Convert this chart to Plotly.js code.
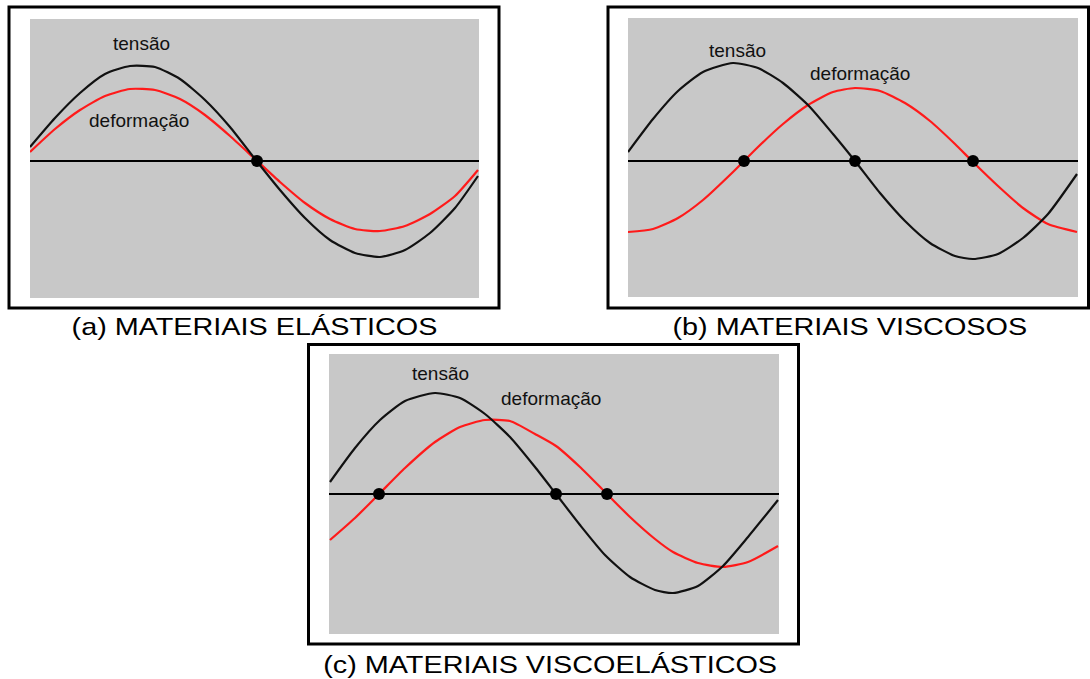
<!DOCTYPE html>
<html>
<head>
<meta charset="utf-8">
<script src="https://cdn.plot.ly/plotly-3.0.1.min.js"></script>
<style>html,body{margin:0;padding:0;background:#fff;}#chart{width:1090px;height:679px;}</style>
</head>
<body>
<div id="chart"></div>
<script>
// Panel (a) – elastic
const xA = [30, 55, 80, 105, 130, 155, 180, 205, 230, 255, 280, 305, 330, 355, 380, 405, 430, 455, 478];
const tensaoA = [14, 43, 68, 87, 95, 94, 82, 61, 34, 2, -29, -57, -79, -92, -96, -89, -72, -47, -15];
const deformA = [9, 32, 51, 65, 72, 71, 62, 46, 25, 2, -21, -42, -58, -68, -70, -65, -53, -35, -9];
const dotsAx = [257];
const dotsAy = [0];

// Panel (b) – viscous
const xB = [628, 653, 678, 703, 733, 758, 783, 808, 833, 855, 880, 905, 930, 955, 973, 998, 1023, 1048, 1077];
const tensaoB = [9, 42, 70, 89, 98, 93, 78, 56, 27, 0, -32, -60, -82, -95, -98, -93, -77, -53, -13];
const deformB = [-71, -68, -57, -39, -11, 14, 37, 56, 69, 73, 70, 58, 40, 17, -1, -25, -47, -63, -71];
const dotsBx = [744, 855, 973];
const dotsBy = [0, 0, 0];

// Panel (c) – viscoelastic
const xC = [330, 355, 380, 405, 435, 460, 485, 510, 535, 556, 580, 605, 630, 655, 673, 698, 723, 748, 778];
const tensaoC = [12, 46, 74, 93, 101, 96, 80, 57, 27, 0, -31, -61, -83, -96, -99, -92, -72, -43, -6];
const deformC = [-46, -24, 1, 26, 52, 67, 74, 73, 60, 48, 27, 2, -23, -45, -58, -69, -73, -68, -52];
const dotsCx = [379, 556, 607];
const dotsCy = [0, 0, 0];

const labelTensao = "tensão";
const labelDeform = "deformação";
const captions = ["(a) MATERIAIS ELÁSTICOS", "(b) MATERIAIS VISCOSOS", "(c) MATERIAIS VISCOELÁSTICOS"];

const W = 1090, H = 679;
const RED = "#ff1a1a", BLACK = "#111111";

function curve(x, y, color, ax) {
  return {x: x, y: y, type: "scatter", mode: "lines", line: {color: color, width: 2.2, shape: "spline", smoothing: 0.6},
    xaxis: "x" + ax, yaxis: "y" + ax, hoverinfo: "skip", showlegend: false};
}
function dots(x, y, ax) {
  return {x: x, y: y, type: "scatter", mode: "markers", marker: {color: "#000", size: 12},
    xaxis: "x" + ax, yaxis: "y" + ax, hoverinfo: "skip", showlegend: false};
}

const data = [
  curve(xA, deformA, RED, ""), curve(xA, tensaoA, BLACK, ""), dots(dotsAx, dotsAy, ""),
  curve(xB, deformB, RED, "2"), curve(xB, tensaoB, BLACK, "2"), dots(dotsBx, dotsBy, "2"),
  curve(xC, deformC, RED, "3"), curve(xC, tensaoC, BLACK, "3"), dots(dotsCx, dotsCy, "3")
];

function xax(l, r) {
  return {domain: [l / W, r / W], range: [l, r], showgrid: false, zeroline: false, showticklabels: false, ticks: "", showline: false, fixedrange: true};
}
function yax(top, bottom, axisY, anchor) {
  return {domain: [1 - bottom / H, 1 - top / H], range: [-(bottom - axisY), axisY - top], anchor: anchor,
    showgrid: false, zeroline: true, zerolinecolor: "#000", zerolinewidth: 1.5, showticklabels: false, ticks: "", showline: false, fixedrange: true};
}
const xa = xax(30, 479); xa.anchor = "y";
const xb = xax(628, 1078); xb.anchor = "y2";
const xc = xax(329, 779); xc.anchor = "y3";

function frame(l, t, r, b) {
  return {type: "rect", xref: "paper", yref: "paper", x0: l / W, x1: r / W, y0: 1 - b / H, y1: 1 - t / H,
    line: {color: "#000", width: 3}, fillcolor: "rgba(0,0,0,0)", layer: "above"};
}
function lab(text, x, y, ax) {
  return {text: text, x: x, y: y, xref: "x" + ax, yref: "y" + ax, showarrow: false, xanchor: "center", yanchor: "middle",
    font: {family: "Liberation Sans, Arial, sans-serif", size: 19, color: "#111"}};
}
function cap(text, xc, yc) {
  return {text: text, x: xc / W, y: 1 - yc / H, xref: "paper", yref: "paper", showarrow: false, xanchor: "center", yanchor: "middle",
    font: {family: "Liberation Sans, Arial, sans-serif", size: 24, color: "#000"}};
}

const layout = {
  width: W, height: H, margin: {l: 0, r: 0, t: 0, b: 0},
  paper_bgcolor: "#ffffff", plot_bgcolor: "#c8c8c8", showlegend: false,
  xaxis: xa, yaxis: yax(19, 298, 161, "x"),
  xaxis2: xb, yaxis2: yax(18, 297, 161, "x2"),
  xaxis3: xc, yaxis3: yax(354, 634, 494, "x3"),
  shapes: [frame(9, 7, 499, 308), frame(608, 7, 1088.5, 308), frame(308.5, 344.5, 798.5, 644)],
  annotations: [
    lab(labelTensao, 141, 118, ""), lab(labelDeform, 139, 41, ""),
    lab(labelTensao, 737, 111, "2"), lab(labelDeform, 860, 88, "2"),
    lab(labelTensao, 440, 121, "3"), lab(labelDeform, 551, 96, "3"),
    cap(captions[0], 254, 326), cap(captions[1], 850, 326), cap(captions[2], 550, 664)
  ]
};

Plotly.newPlot("chart", data, layout, {staticPlot: true, displayModeBar: false}).then(function () {
  // the captions in the source are horizontally stretched Arial; widen them around their centre
  document.querySelectorAll("#chart .annotation-text").forEach(function (t) {
    if (captions.indexOf(t.textContent) < 0) return;
    const bb = t.getBBox();
    const cx = bb.x + bb.width / 2;
    t.setAttribute("transform", "translate(" + cx + ",0) scale(1.2,1) translate(" + (-cx) + ",0)");
  });
});
</script>
</body>
</html>
